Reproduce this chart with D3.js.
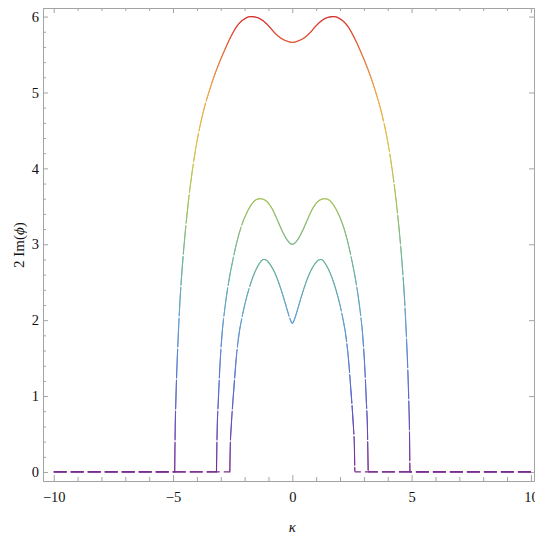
<!DOCTYPE html>
<html>
<head>
<meta charset="utf-8">
<script src="https://cdn.jsdelivr.net/npm/d3@7"></script>
<style>
  body { margin: 0; background: #fff; }
</style>
</head>
<body>
<div class="chart"></div>
<script>
// three curves, values (full kappa range, zero outside the hump)
var kappaC = [-10, -2.62, -2.6, -2.57, -2.52, -2.45, -2.35, -2.25, -2.1, -1.95, -1.8, -1.65, -1.5, -1.35, -1.2, -1.05, -0.9, -0.7, -0.5, -0.35, -0.2, -0.1, 0,
              0.1, 0.2, 0.35, 0.5, 0.7, 0.9, 1.05, 1.2, 1.35, 1.5, 1.65, 1.8, 1.95, 2.1, 2.25, 2.35, 2.45, 2.52, 2.57, 2.6, 2.62, 10];
var valuesC = [0, 0, 0.35, 0.55, 0.8, 1.1, 1.5, 1.78, 2.05, 2.26, 2.43, 2.57, 2.68, 2.76, 2.8, 2.78, 2.72, 2.6, 2.43, 2.28, 2.12, 2.02, 1.96,
               2.02, 2.12, 2.28, 2.43, 2.6, 2.72, 2.78, 2.8, 2.76, 2.68, 2.57, 2.43, 2.26, 2.05, 1.78, 1.5, 1.1, 0.8, 0.55, 0.35, 0, 0];

var kappaB = [-10, -3.18, -3.15, -3.1, -3.05, -2.95, -2.85, -2.7, -2.5, -2.3, -2.1, -1.9, -1.7, -1.5, -1.35, -1.2, -1.0, -0.8, -0.6, -0.4, -0.2, 0,
              0.2, 0.4, 0.6, 0.8, 1.0, 1.2, 1.35, 1.5, 1.7, 1.9, 2.1, 2.3, 2.5, 2.7, 2.85, 2.95, 3.05, 3.1, 3.15, 3.18, 10];
var valuesB = [0, 0, 0.55, 0.95, 1.3, 1.8, 2.1, 2.44, 2.78, 3.06, 3.27, 3.42, 3.53, 3.59, 3.6, 3.59, 3.54, 3.44, 3.3, 3.16, 3.05, 3.0,
               3.05, 3.16, 3.3, 3.44, 3.54, 3.59, 3.6, 3.59, 3.53, 3.42, 3.27, 3.06, 2.78, 2.44, 2.1, 1.8, 1.3, 0.95, 0.55, 0, 0];

var kappaA = [-10, -4.93, -4.91, -4.88, -4.84, -4.78, -4.7, -4.6, -4.5, -4.36, -4.2, -4.0, -3.75, -3.45, -3.2, -2.89, -2.6, -2.33, -2.0, -1.75, -1.5, -1.25, -1.0, -0.75, -0.5, -0.25, 0,
              0.25, 0.5, 0.75, 1.0, 1.25, 1.5, 1.75, 2.0, 2.33, 2.6, 2.89, 3.2, 3.45, 3.75, 4.0, 4.2, 4.36, 4.5, 4.6, 4.7, 4.78, 4.84, 4.88, 4.91, 4.93, 10];
var valuesA = [0, 0, 0.55, 0.95, 1.35, 1.8, 2.3, 2.75, 3.12, 3.55, 3.95, 4.35, 4.72, 5.05, 5.28, 5.52, 5.72, 5.87, 5.97, 6.0, 5.99, 5.95, 5.88, 5.79, 5.72, 5.68, 5.66,
               5.68, 5.72, 5.79, 5.88, 5.95, 5.99, 6.0, 5.97, 5.87, 5.72, 5.52, 5.28, 5.05, 4.72, 4.35, 3.95, 3.55, 3.12, 2.75, 2.3, 1.8, 1.35, 0.95, 0.55, 0, 0];

var xTicksMajor = [-10, -5, 0, 5, 10];
var yTicksMajor = [0, 1, 2, 3, 4, 5, 6];

var series = [
  {kappa: kappaA, values: valuesA},
  {kappa: kappaB, values: valuesB},
  {kappa: kappaC, values: valuesC}
];

var W = 535, H = 537;
var margin = {top: 8, left: 43, right: 1, bottom: 56};
var w = W - margin.left - margin.right,
    h = H - margin.top - margin.bottom;

var svg = d3.select(".chart").append("svg")
  .attr("width", W).attr("height", H);

var g = svg.append("g")
  .attr("transform", "translate(" + margin.left + "," + margin.top + ")");

var x = d3.scaleLinear().domain([-10.45, 10.13]).range([0, w]);
var y = d3.scaleLinear().domain([-0.119, 6.113]).range([h, 0]);

// height -> colour, like the rainbow colour function
var color = d3.scaleLinear()
  .domain([0, 1, 2, 2.8, 3.6, 4.3, 5.0, 5.5, 6])
  .range(["#7a2a90", "#5a66cc", "#5f9fcf", "#6fb59a", "#a6c25a", "#dcc24a", "#eda446", "#e6703c", "#d7302c"])
  .clamp(true);

// frame + ticks
var frameCol = "#a3a3a3";
function styleAxis(sel) {
  sel.select(".domain").attr("stroke", frameCol);
  sel.selectAll(".tick line").attr("stroke", frameCol);
  sel.selectAll("text").attr("font-size", 14.5).attr("fill", "#111");
}
var xMinor = d3.range(-10, 11, 1).filter(function(v){ return xTicksMajor.indexOf(v) < 0; });
var yMinor = d3.range(0, 6.01, 0.2).map(function(v){ return +v.toFixed(1); })
  .filter(function(v){ return yTicksMajor.indexOf(v) < 0; });

g.append("g").attr("transform", "translate(0," + h + ")")
  .call(d3.axisBottom(x).tickValues(xTicksMajor).tickSize(-6).tickSizeOuter(0).tickPadding(11).tickFormat(d3.format("d")))
  .call(styleAxis);
g.append("g").attr("transform", "translate(0," + h + ")")
  .call(d3.axisBottom(x).tickValues(xMinor).tickSize(-4).tickSizeOuter(0).tickFormat(""))
  .call(styleAxis);
g.append("g")
  .call(d3.axisTop(x).tickValues(xTicksMajor).tickSize(-5).tickSizeOuter(0).tickFormat(""))
  .call(styleAxis);
g.append("g")
  .call(d3.axisTop(x).tickValues(xMinor).tickSize(-3).tickSizeOuter(0).tickFormat(""))
  .call(styleAxis);
g.append("g")
  .call(d3.axisLeft(y).tickValues(yTicksMajor).tickSize(-5).tickSizeOuter(0).tickPadding(4).tickFormat(d3.format("d")))
  .call(styleAxis);
g.append("g")
  .call(d3.axisLeft(y).tickValues(yMinor).tickSize(-3).tickSizeOuter(0).tickFormat(""))
  .call(styleAxis);
g.append("g").attr("transform", "translate(" + w + ",0)")
  .call(d3.axisRight(y).tickValues(yTicksMajor).tickSize(-5).tickSizeOuter(0).tickFormat(""))
  .call(styleAxis);

// curves
var line = d3.line()
  .x(function(d){ return x(d[0]); })
  .y(function(d){ return y(d[1]); })
  .curve(d3.curveMonotoneX);

var plot = g.append("g").attr("class", "curves");

series.forEach(function(s) {
  var pts = s.kappa.map(function(k, i){ return [k, s.values[i]]; });
  // split into zero tails and the hump
  var first = 1, last = pts.length - 2;
  var hump = pts.slice(first, last + 1);

  // zero tails, dashes anchored at the plot ends so overlapping tails line up
  [[pts[0], pts[first]], [pts[pts.length - 1], pts[last]]].forEach(function(seg) {
    plot.append("path")
      .attr("d", d3.line().x(function(d){ return x(d[0]); }).y(function(d){ return y(d[1]); })(seg))
      .attr("fill", "none")
      .attr("stroke", color(0))
      .attr("stroke-width", 1.2)
      .attr("stroke-dasharray", "13,4");
  });

  // hump, drawn as small coloured pieces with thin breaks on the steep flanks
  var tmp = plot.append("path").attr("d", line(hump)).attr("fill", "none").attr("stroke", "none");
  var node = tmp.node(), L = node.getTotalLength();
  var step = 1, steepRun = 0, gap = 0;
  var prev = node.getPointAtLength(0);
  for (var s0 = step; s0 <= L + 0.001; s0 += step) {
    var p = node.getPointAtLength(Math.min(s0, L));
    var dx = Math.abs(p.x - prev.x), dy = Math.abs(p.y - prev.y);
    var steep = dy > 3 * dx && y.invert(p.y) < 5;
    if (steep) steepRun += step; else steepRun = 0;
    if (gap > 0) {
      gap -= step;
    } else if (steep && steepRun > 30) {
      steepRun = 0;
      gap = 1;
    } else {
      plot.append("line")
        .attr("x1", prev.x).attr("y1", prev.y)
        .attr("x2", p.x).attr("y2", p.y)
        .attr("stroke", color(y.invert((prev.y + p.y) / 2)))
        .attr("stroke-width", 1.1)
        .attr("stroke-linecap", "round");
    }
    prev = p;
  }
  tmp.remove();
});

// axis labels
svg.append("text")
  .attr("transform", "translate(24," + (margin.top + y(2.99)) + ") rotate(-90)")
  .attr("text-anchor", "middle")
  .attr("font-size", 15)
  .html('2 Im(<tspan font-style="italic">ϕ</tspan>)');

svg.append("text")
  .attr("x", margin.left + x(0))
  .attr("y", 532)
  .attr("text-anchor", "middle")
  .attr("font-size", 15)
  .attr("font-style", "italic")
  .text("κ");

// serif everywhere (inline style beats the axis' sans-serif attribute)
svg.selectAll("text").style("font-family", "'Liberation Serif', serif").attr("fill", "#111");
</script>
</body>
</html>
